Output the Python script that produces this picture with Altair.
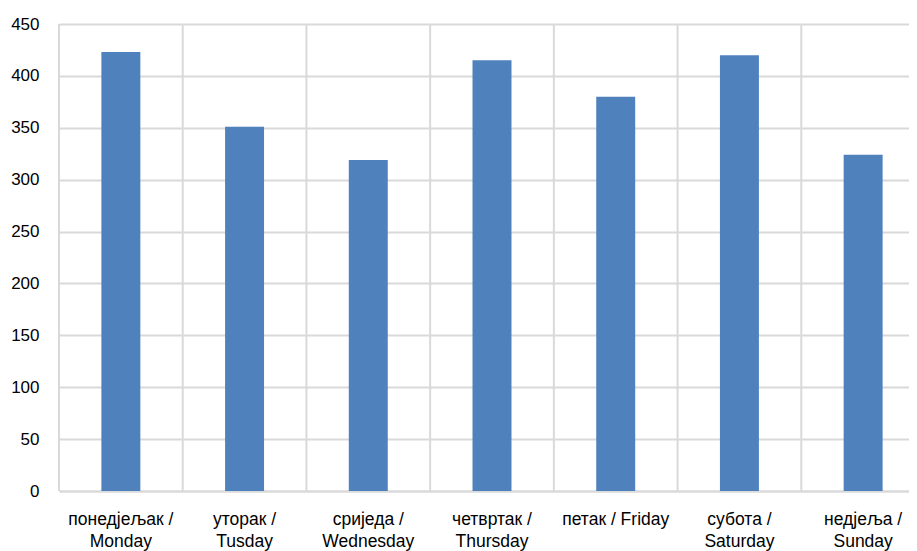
import altair as alt
import pandas as pd

days_sr = ["понедјељак", "уторак", "сриједа", "четвртак", "петак", "субота", "недјеља"]
days_en = ["Monday", "Tusday", "Wednesday", "Thursday", "Friday", "Saturday", "Sunday"]
values = [423, 351, 319, 415, 380, 420, 324]
y_ticks = [0, 50, 100, 150, 200, 250, 300, 350, 400, 450]

labels = []
for sr, en in zip(days_sr, days_en):
    if en == "Friday":
        labels.append(f"{sr} / {en}")
    else:
        labels.append(f"{sr} /|{en}")

df = pd.DataFrame({"day": labels, "value": values})

FONT = "Liberation Sans Narrow, Liberation Sans"
GRID = "#d9d9d9"

xscale = alt.Scale(domain=labels, paddingInner=0, paddingOuter=0, range=[0, 866])
xaxis = alt.Axis(
    title=None,
    labelAngle=0,
    ticks=False,
    domain=True,
    domainColor=GRID,
    domainWidth=2,
    labelExpr="split(datum.label, '|')",
    labelFont=FONT,
    labelFontSize=17.5,
    labelColor="#000000",
    labelPadding=19,
    labelLineHeight=22,
    labelOverlap=False,
    labelBound=False,
    grid=False,
)

vgrid = alt.Chart(df).mark_rule(color=GRID, strokeWidth=2).encode(
    x=alt.X("day:N", scale=xscale, sort=labels, bandPosition=0, axis=xaxis)
)

bars = alt.Chart(df).mark_bar(
    color="#4f81bd", width=alt.RelativeBandSize(0.315)
).encode(
    x=alt.X("day:N", scale=xscale, sort=labels, axis=xaxis),
    y=alt.Y(
        "value:Q",
        scale=alt.Scale(domain=[0, 450], nice=False),
        axis=alt.Axis(
            title=None,
            values=y_ticks,
            domain=False,
            ticks=False,
            grid=True,
            gridColor=GRID,
            gridWidth=2,
            labelFont=FONT,
            labelFontSize=17,
            labelColor="#000000",
            labelPadding=20,
        ),
    ),
)

chart = alt.layer(vgrid, bars).properties(
    width=850,
    height=467,
    autosize=alt.AutoSizeParams(type="none"),
    padding={"left": 51, "top": 16, "right": 0, "bottom": 60},
).configure_view(stroke=None)

chart.save("out.html", embed_options={"renderer": "svg", "actions": False})
